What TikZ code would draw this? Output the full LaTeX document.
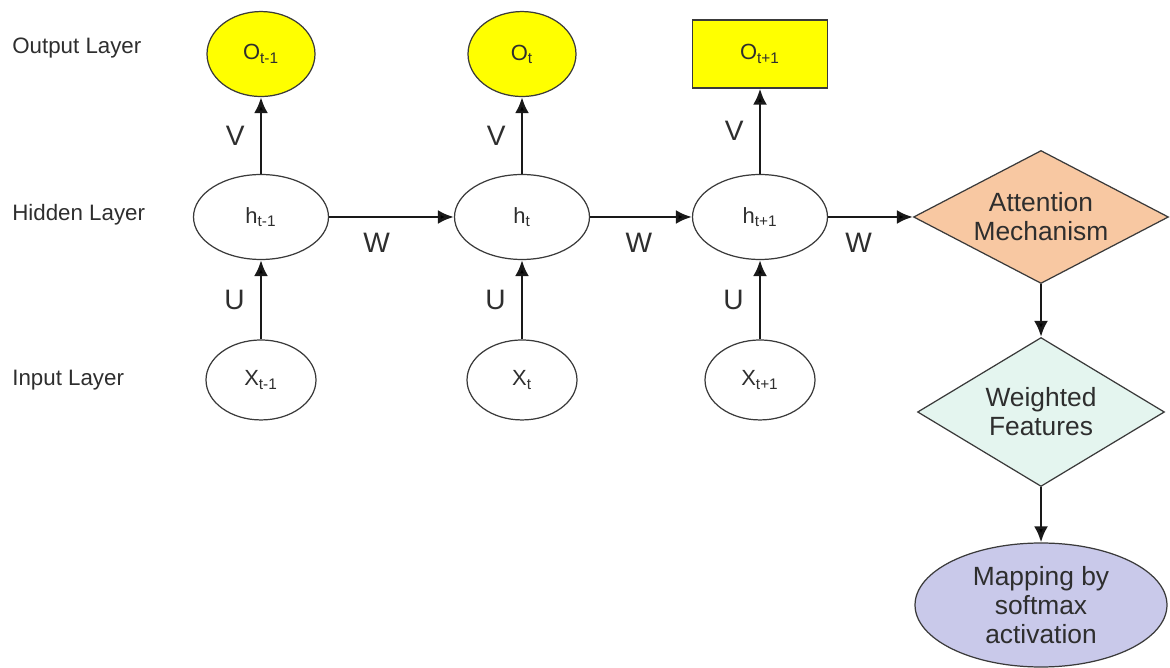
\documentclass[tikz,border=0pt]{standalone}
\usepackage{fontspec}
\setmainfont{Liberation Sans}
\usetikzlibrary{shapes.geometric,positioning,arrows.meta}
\definecolor{outyellow}{HTML}{FFFF00}
\definecolor{attpeach}{HTML}{F8C8A2}
\definecolor{featcyan}{HTML}{E4F5EF}
\definecolor{maplilac}{HTML}{C9C9EA}
\definecolor{linegray}{HTML}{3A3A3A}
\definecolor{txtgray}{HTML}{2E2E2E}

\begin{document}
\begin{tikzpicture}[x=0.02cm,y=0.02cm,>={Latex[length=3.2mm,width=2.8mm]},node distance=3.26cm,
    cell node/.style={ellipse,draw=linegray,line width=0.7pt,inner sep=0pt,text=txtgray,font=\fontsize{12.5}{14}\selectfont},
    hid node/.style={cell node,minimum width=2.7cm,minimum height=1.7cm},
    in node/.style={cell node,minimum width=2.2cm,minimum height=1.6cm},
    out node/.style={cell node,fill=outyellow,minimum width=2.16cm,minimum height=1.7cm},
    out box/.style={rectangle,draw=linegray,line width=0.7pt,fill=outyellow,text=txtgray,font=\fontsize{12.5}{14}\selectfont,minimum width=2.7cm,minimum height=1.36cm},
    flow node/.style={draw=linegray,line width=0.7pt,inner sep=1pt,align=center,text=txtgray,font=\fontsize{15}{16.5}\selectfont},
    layer label/.style={anchor=west,inner sep=0pt,text=txtgray,font=\fontsize{12.7}{15}\selectfont},
    wlabel/.style={inner sep=0pt,text=txtgray,font=\fontsize{16}{18}\selectfont}]
    \useasboundingbox (0,0) rectangle (1170,-668);

    % layer names
    \node[layer label] (LO) at (12,-48) {Output Layer};
    \node[layer label] (LH) at (12,-215) {Hidden Layer};
    \node[layer label] (LI) at (12,-380) {Input Layer};

    % unrolled RNN
    \node[hid node] (H1) at (261,-217) {h\textsubscript{t-1}};
    \node[out node] (O1) [above of = H1] {O\textsubscript{t-1}};
    \node[in node] (X1) [below of = H1] {X\textsubscript{t-1}};

    \node[hid node] (H2) at (522,-217) {h\textsubscript{t}};
    \node[out node] (O2) [above of = H2] {O\textsubscript{t}};
    \node[in node] (X2) [below of = H2] {X\textsubscript{t}};

    \node[hid node] (H3) at (760,-217) {h\textsubscript{t+1}};
    \node[out box] (O3) [above of = H3] {O\textsubscript{t+1}};
    \node[in node] (X3) [below of = H3] {X\textsubscript{t+1}};

    % attention part
    \node[flow node,diamond,shape aspect=1.92,fill=attpeach,minimum width=5.1cm,minimum height=2.66cm] (A) at (1041,-217) {Attention\\Mechanism};
    \node[flow node,diamond,shape aspect=1.66,fill=featcyan,minimum width=4.94cm,minimum height=2.98cm] (F) at (1041,-412) {Weighted\\Features};
    \node[flow node,ellipse,fill=maplilac,minimum width=5.04cm,minimum height=2.48cm] (M) at (1041,-605) {Mapping by\\softmax\\activation};

    \path[->,line width=1.6pt,draw=black!90,every node/.style={wlabel}]
        (H1) edge node[left=0.3cm]{V} (O1)
        (X1) edge node[left=0.3cm]{U} (H1)
        (H2) edge node[left=0.3cm]{V} (O2)
        (X2) edge node[left=0.3cm]{U} (H2)
        (H3) edge node[left=0.3cm]{V} (O3)
        (X3) edge node[left=0.3cm]{U} (H3)
        (H1) edge node[below=0.3cm,pos=0.38]{W} (H2)
        (H2) edge node[below=0.3cm,pos=0.48]{W} (H3)
        (H3) edge node[below=0.3cm,pos=0.36]{W} (A)
        (A) edge (F)
        (F) edge (M)
        ;
\end{tikzpicture}
\end{document}
